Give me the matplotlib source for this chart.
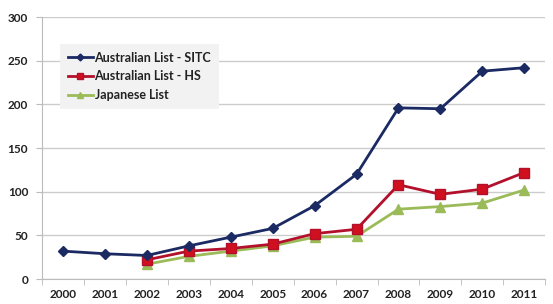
import matplotlib
matplotlib.use("Agg")
import matplotlib.pyplot as plt
import numpy as np

plt.rcParams['font.family'] = ['Lato', 'DejaVu Sans']

years = ["2000","2001","2002","2003","2004","2005","2006","2007","2008","2009","2010","2011"]
sitc = [32, 29, 27, 38, 48, 58, 84, 120, 196, 195, 238, 242]
hs = [None, None, 22, 32, 35, 40, 52, 57, 108, 97, 103, 122]
jp = [None, None, 17, 26, 32, 38, 48, 49, 80, 83, 87, 102]

fig = plt.figure(figsize=(5.53, 3.04), dpi=100)
ax = fig.add_axes([0.076, 0.082, 0.910, 0.862])

x = np.arange(len(years))
def arr(v):
    return np.array([np.nan if a is None else a for a in v], dtype=float)

ax.plot(x, arr(sitc), color="#1B2A63", lw=2, marker="D", ms=5, label="Australian List - SITC", zorder=5)
ax.plot(x, arr(hs), color="#B2102B", lw=2, marker="s", ms=6.5, mfc="#D0101E", mec="#B2102B", label="Australian List - HS", zorder=4)
ax.plot(x, arr(jp), color="#9BBB59", lw=2, marker="^", ms=6.5, label="Japanese List", zorder=3)

ax.set_xlim(-0.5, 11.5)
ax.set_ylim(0, 300)
ax.set_yticks(range(0, 301, 50))
ax.set_xticks(x)
ax.set_xticklabels(years)
ax.set_xticks(np.arange(-0.5, 11.6, 1), minor=True)
ax.tick_params(axis="x", which="major", length=0, pad=7)
ax.tick_params(axis="x", which="minor", length=4, color="#BBBBBB")
ax.tick_params(axis="y", length=4, color="#BBBBBB", pad=6)
for lab in ax.get_xticklabels() + ax.get_yticklabels():
    lab.set_fontweight("bold")
    lab.set_fontsize(8.5)
    lab.set_color("#222222")
ax.grid(axis="y", color="#CCCCCC", lw=1)
ax.set_axisbelow(True)
for s in ["top", "right"]:
    ax.spines[s].set_visible(False)
ax.spines["left"].set_color("#BBBBBB")
ax.spines["bottom"].set_color("#BBBBBB")

leg = ax.legend(loc="upper left", bbox_to_anchor=(0.036, 0.897), frameon=True,
                borderaxespad=0,
                prop={"weight": "bold", "size": 9}, handlelength=2.0,
                borderpad=0.6, labelspacing=0.55, handletextpad=0.15, markerscale=0.7)
leg.get_frame().set_facecolor("#F2F2F2")
leg.get_frame().set_edgecolor("none")
leg.get_frame().set_alpha(1)
leg.get_frame().set_boxstyle("square", pad=0)
for t in leg.get_texts():
    t.set_color("#222222")

fig.savefig("out.png", dpi=100)
